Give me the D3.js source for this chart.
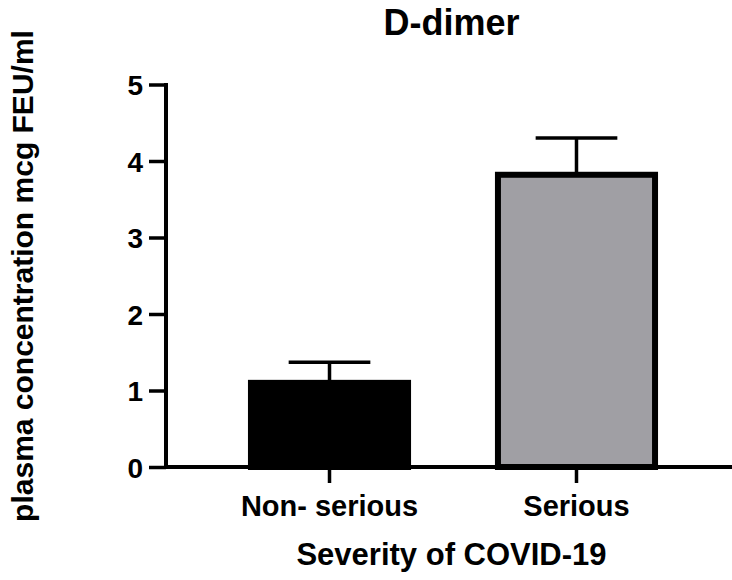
<!DOCTYPE html>
<html>
<head>
<meta charset="utf-8">
<script src="https://cdn.jsdelivr.net/npm/d3@7"></script>
<style>
  body { margin: 0; background: #fff; }
  text { font-family: "Liberation Sans", Arial, sans-serif; font-weight: bold; fill: #000; }
</style>
</head>
<body>
<div id="chart"></div>
<script>
// values
const groups = ["Non- serious", "Serious"];
const means = [1.10, 3.82];
const errors = [0.27, 0.48];
const fills = ["#000000", "#a09fa4"];
const yTicks = [0, 1, 2, 3, 4, 5];

const width = 732, height = 580;

const svg = d3.select("#chart")
    .append("svg")
    .attr("width", width)
    .attr("height", height);

const x = d3.scaleBand()
    .domain(groups)
    .range([166, 740])
    .paddingInner(0.364)
    .paddingOuter(0.344);

const y = d3.scaleLinear()
    .domain([0, 5])
    .range([467, 84.5]);

// error bars (upper only, drawn under the bars)
const capW = x.bandwidth() * 0.52;
const err = svg.append("g")
    .attr("stroke", "#000")
    .attr("stroke-width", 3.5);
groups.forEach((g, i) => {
    const cx = x(g) + x.bandwidth() / 2;
    err.append("line")
        .attr("x1", cx).attr("x2", cx)
        .attr("y1", y(means[i])).attr("y2", y(means[i] + errors[i]));
    err.append("line")
        .attr("x1", cx - capW / 2).attr("x2", cx + capW / 2)
        .attr("y1", y(means[i] + errors[i])).attr("y2", y(means[i] + errors[i]));
});

// bars
svg.selectAll(".bar")
    .data(groups)
    .enter()
    .append("rect")
    .attr("class", "bar")
    .attr("x", d => x(d))
    .attr("width", x.bandwidth())
    .attr("y", (d, i) => y(means[i]))
    .attr("height", (d, i) => y(0) - y(means[i]))
    .attr("fill", (d, i) => fills[i])
    .attr("stroke", "#000")
    .attr("stroke-width", 6);

// y axis
const yAxis = svg.append("g")
    .attr("transform", "translate(166,0)")
    .call(d3.axisLeft(y).tickValues(yTicks).tickFormat(d3.format("d")).tickSize(17).tickPadding(6));
yAxis.select(".domain").attr("stroke-width", 4).attr("d", "M0," + (y(5) - 1.5) + "H0V" + y(0));
yAxis.selectAll(".tick line").attr("stroke-width", 3.5);
yAxis.selectAll(".tick text")
    .style("font-size", "28px")
    .attr("dy", "0.36em");

// x axis
const xAxis = svg.append("g")
    .attr("transform", "translate(0," + y(0) + ")")
    .call(d3.axisBottom(x).tickSize(16).tickPadding(12));
xAxis.select(".domain").attr("stroke-width", 4).attr("d", "M164,0H" + width);
xAxis.selectAll(".tick line").attr("stroke-width", 3.5);
xAxis.selectAll(".tick text").style("font-size", "29px");

// titles
svg.append("text")
    .attr("x", 451.5)
    .attr("y", 35)
    .attr("text-anchor", "middle")
    .style("font-size", "36px")
    .text("D-dimer");

svg.append("text")
    .attr("x", 451.5)
    .attr("y", 565)
    .attr("text-anchor", "middle")
    .style("font-size", "31px")
    .text("Severity of COVID-19");

svg.append("text")
    .attr("transform", "translate(33,276) rotate(-90)")
    .attr("text-anchor", "middle")
    .style("font-size", "30px")
    .text("plasma concentration mcg FEU/ml");
</script>
</body>
</html>
